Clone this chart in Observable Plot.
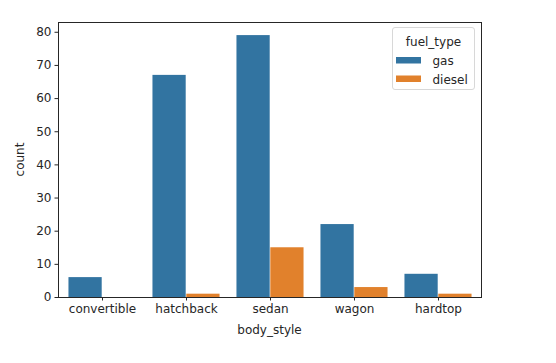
<!DOCTYPE html>
<html><head><meta charset="utf-8">
<script src="https://cdn.jsdelivr.net/npm/d3@7"></script>
<script src="https://cdn.jsdelivr.net/npm/@observablehq/plot@0.6"></script>
<style>
body{margin:0;background:#fff;}
#chart{position:relative;width:556px;height:363px;}
svg{font-family:"DejaVu Sans",sans-serif;}
</style></head>
<body><div id="chart"></div>
<script>
const categories = ["convertible","hatchback","sedan","wagon","hardtop"];
const fuelTypes = ["gas","diesel"];
const gasCounts = [6,67,79,22,7];
const dieselCounts = [0,1,15,3,1];
const yTicks = [0,10,20,30,40,50,60,70,80];
const colors = ["#3274a1","#e1812c"];

const W=556,H=363,mL=58,mR=75,mT=22,mB=66;
const band=(W-mL-mR)/categories.length;
const gas = categories.map((c,i)=>({body_style:c,fuel_type:"gas",count:gasCounts[i]}));
const diesel = categories.map((c,i)=>({body_style:c,fuel_type:"diesel",count:dieselCounts[i]}));
const ymax = Math.max(...gasCounts,...dieselCounts)*1.05;

const plot = Plot.plot({
  width:W,height:H,marginLeft:mL,marginRight:mR,marginTop:mT,marginBottom:mB,
  style:{fontFamily:"DejaVu Sans, sans-serif",fontSize:"12px",color:"#262626",background:"#fff"},
  x:{domain:categories,padding:0,label:null},
  y:{domain:[0,ymax],label:null},
  marks:[
    Plot.barY(gas,{x:"body_style",y:"count",fill:colors[0],insetLeft:band*0.1,insetRight:band*0.5}),
    Plot.barY(diesel.filter(d=>d.count>0),{x:"body_style",y:"count",fill:colors[1],insetLeft:band*0.5,insetRight:band*0.1}),
    Plot.frame({stroke:"#262626",strokeWidth:1}),
    Plot.axisX({tickSize:3.5,tickPadding:3.5,label:null,fontSize:"12px"}),
    Plot.axisY({ticks:yTicks,tickSize:3.5,tickPadding:3.5,label:null,fontSize:"12px"})
  ]
});
document.getElementById("chart").appendChild(plot);

const svg=d3.select(plot);
svg.append("text").attr("x",(mL+W-mR)/2).attr("y",334).attr("text-anchor","middle")
  .attr("font-size",12).attr("fill","#262626").text("body_style");
svg.append("text").attr("transform",`translate(24,${(mT+H-mB)/2}) rotate(-90)`).attr("text-anchor","middle")
  .attr("font-size",12).attr("fill","#262626").text("count");

// legend
const lg=svg.append("g");
lg.append("rect").attr("x",392.5).attr("y",27.5).attr("width",82).attr("height",62).attr("rx",2.5)
  .attr("fill","#fff").attr("fill-opacity",0.8).attr("stroke","#d8d8d8");
lg.append("text").attr("x",433.5).attr("y",46).attr("text-anchor","middle").attr("font-size",12).attr("fill","#262626").text("fuel_type");
fuelTypes.forEach((f,i)=>{
  const y=57+i*18.5;
  lg.append("rect").attr("x",396).attr("y",y).attr("width",25).attr("height",6.5).attr("fill",colors[i]);
  lg.append("text").attr("x",432.5).attr("y",y+8).attr("text-anchor","start").attr("font-size",12).attr("fill","#262626").text(f);
});
</script></body></html>
